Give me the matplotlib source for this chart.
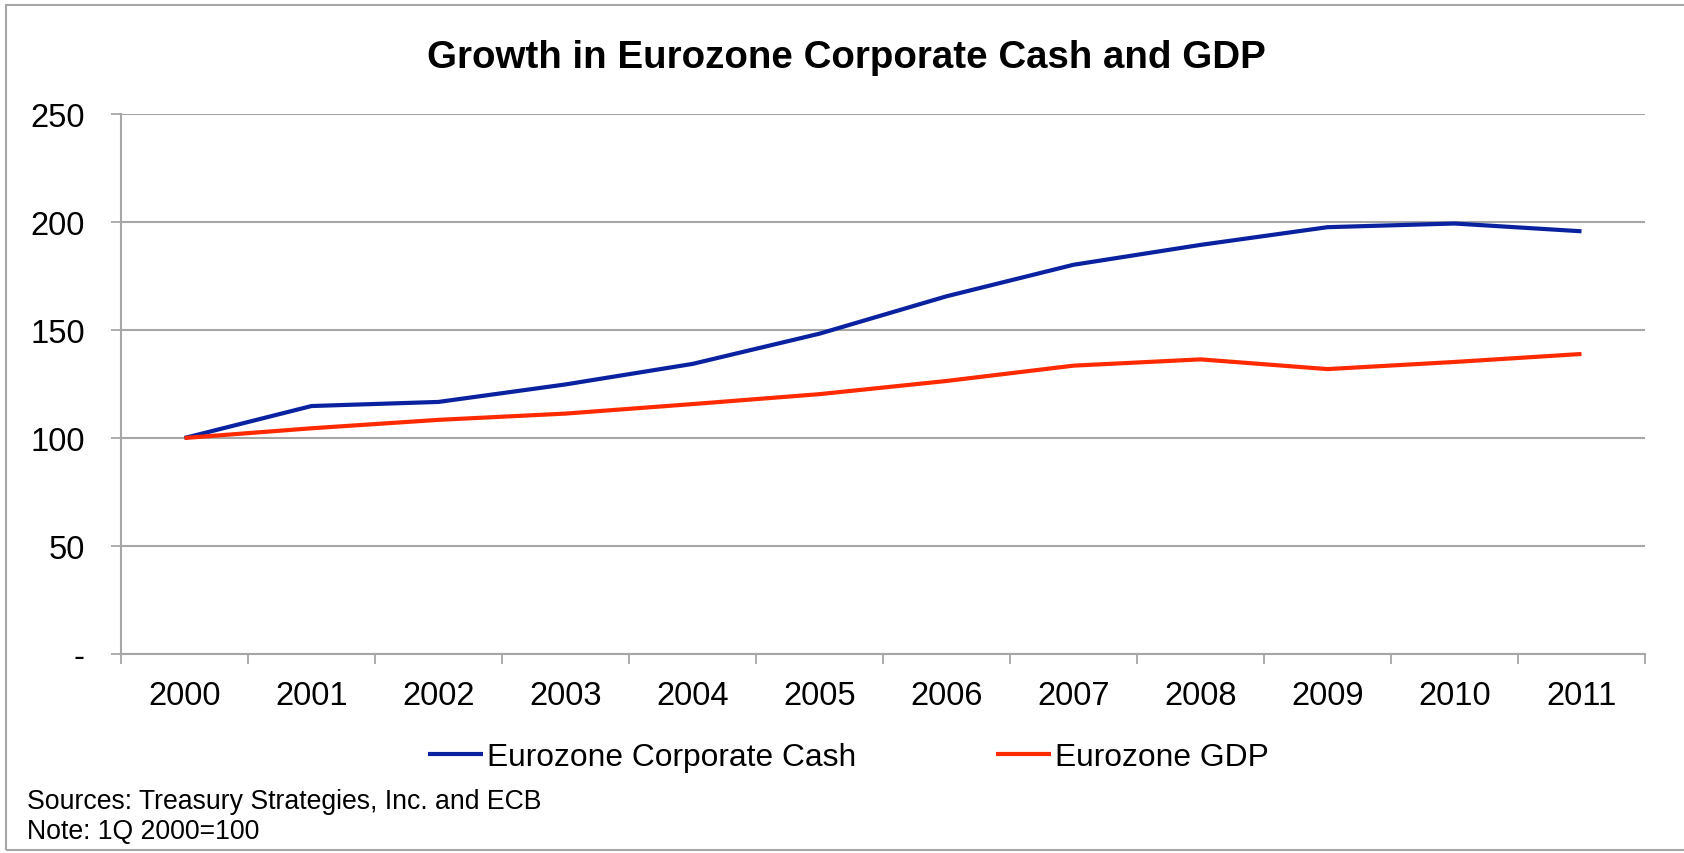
import matplotlib.pyplot as plt
from matplotlib.patches import Rectangle
import numpy as np

plt.rcParams['font.family'] = ['Liberation Sans', 'DejaVu Sans']

years = ['2000', '2001', '2002', '2003', '2004', '2005',
         '2006', '2007', '2008', '2009', '2010', '2011']
corporate_cash = [100, 114.8, 116.7, 124.8, 134.3, 148.3,
                  165.6, 180.2, 189.4, 197.6, 199.3, 195.7]
gdp = [100, 104.5, 108.4, 111.3, 115.7, 120.3,
       126.4, 133.5, 136.4, 131.9, 135.2, 138.9]
y_ticks = [0, 50, 100, 150, 200, 250]
y_labels = ['-', '50', '100', '150', '200', '250']

W, H = 1684, 854
grey = '#a6a6a6'

fig = plt.figure(figsize=(W / 100, H / 100), dpi=100)
ax = fig.add_axes([121 / W, 1 - 655 / H, (1645 - 121) / W, (655 - 115) / H])

x = np.arange(len(years))
ax.plot(x, corporate_cash, color='#0a22a0', lw=3.0, label='Eurozone Corporate Cash',
        solid_capstyle='butt')
ax.plot(x, gdp, color='#ff2a00', lw=3.0, label='Eurozone GDP',
        solid_capstyle='butt')

ax.set_xlim(-0.5, len(years) - 0.5)
ax.set_ylim(0, 250)

# category boundaries carry the tick marks, labels sit between them
ax.set_xticks(np.arange(-0.5, len(years)), [''] * (len(years) + 1))
ax.set_xticks(x, years, minor=True)
ax.tick_params(axis='x', which='major', length=7, width=1.3, color=grey, direction='out')
ax.tick_params(axis='x', which='minor', length=0, pad=19, labelsize=23.5)

ax.set_yticks(y_ticks, y_labels)
ax.tick_params(axis='y', length=7, width=1.3, color=grey, pad=19, labelsize=23.5)
ax.yaxis.grid(True, color=grey, lw=1.5)
ax.set_axisbelow(True)

for side in ('top', 'right'):
    ax.spines[side].set_visible(False)
for side in ('left', 'bottom'):
    ax.spines[side].set_color(grey)
    ax.spines[side].set_linewidth(1.5)

fig.text(846 / W, 1 - 58 / H, 'Growth in Eurozone Corporate Cash and GDP',
         ha='center', va='center', fontsize=27.7, fontweight='bold')

fig.legend(loc='center', bbox_to_anchor=(848 / W, 1 - 758 / H), ncol=2,
           frameon=False, fontsize=22.9, handlelength=1.75, handletextpad=0.1,
           columnspacing=4.4)

fig.text(27 / W, 1 - 802 / H, 'Sources: Treasury Strategies, Inc. and ECB',
         ha='left', va='center', fontsize=19.2)
fig.text(27 / W, 1 - 832 / H, 'Note: 1Q 2000=100',
         ha='left', va='center', fontsize=19.2)

# outer frame around the whole chart
fig.patches.append(Rectangle((6 / W, 3 / H), 1.2, 1 - 9 / H, transform=fig.transFigure,
                             fill=False, edgecolor=grey, lw=1.5))

fig.savefig('out.png', dpi=100, facecolor='white')
